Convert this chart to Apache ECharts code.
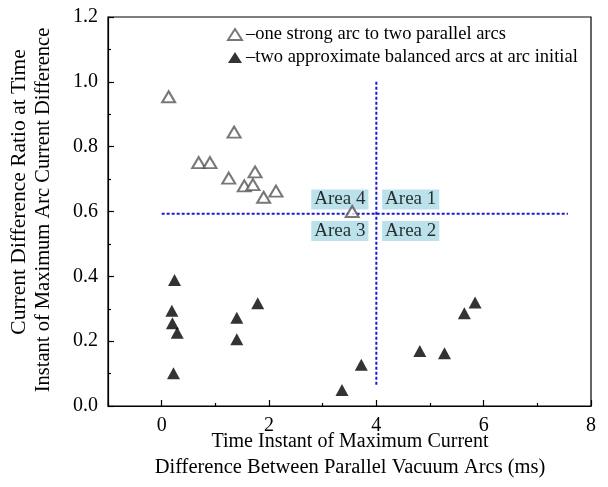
<!DOCTYPE html>
<html><head><meta charset="utf-8">
<script src="https://cdn.jsdelivr.net/npm/echarts@6/dist/echarts.min.js"></script>
<style>html,body{margin:0;padding:0;background:#fff}#c{width:608px;height:487px}</style>
</head><body><div id="c"></div>
<script>
var seriesNames = ['–one strong arc to two parallel arcs', '–two approximate balanced arcs at arc initial'];
var strongX = [0.13, 1.35, 0.69, 0.90, 1.25, 1.74, 1.54, 1.70, 1.90, 2.13, 3.55];
var strongY = [0.954, 0.845, 0.751, 0.751, 0.703, 0.722, 0.679, 0.683, 0.644, 0.663, 0.600];
var balancedX = [0.24, 0.19, 0.20, 0.29, 0.22, 1.40, 1.40, 1.79, 3.36, 3.72, 4.81, 5.27, 5.64, 5.84];
var balancedY = [0.389, 0.294, 0.255, 0.226, 0.101, 0.272, 0.206, 0.317, 0.049, 0.127, 0.170, 0.163, 0.286, 0.319];
var hLineX = [0, 7.57], hLineY = [0.593, 0.593];
var vLineX = [4, 4], vLineY = [1.0, 0.06];
var areaNames = ['Area 4', 'Area 1', 'Area 3', 'Area 2'];
var areaX = [3.32, 4.64, 3.32, 4.64];
var areaY = [0.637, 0.637, 0.540, 0.540];
var xMajor = [0, 2, 4, 6, 8], xMinor = [-1, 1, 3, 5, 7];
var xTitle = ['Time Instant of Maximum Current', 'Difference Between Parallel Vacuum Arcs (ms)'];
var yTitle = ['Current Difference Ratio at Time', 'Instant of Maximum Arc Current Difference'];

function zip(a, b) { return a.map(function (v, i) { return [v, b[i]]; }); }
var F = 'Liberation Serif';
var chart = echarts.init(document.getElementById('c'));
chart.setOption({
  animation: false,
  grid: { left: 108, right: 17, top: 17, bottom: 81, show: true, borderColor: '#000', borderWidth: 1.2, backgroundColor: 'transparent' },
  xAxis: [{
    type: 'value', min: -1, max: 8,
    axisLine: { onZero: false, lineStyle: { color: '#000', width: 1.2 } },
    axisTick: { inside: true, length: 6, customValues: xMajor, lineStyle: { color: '#000', width: 1.2 } },
    axisLabel: { customValues: xMajor, margin: 10, fontFamily: F, fontSize: 20, color: '#000' },
    splitLine: { show: false }
  }, {
    type: 'value', min: -1, max: 8, position: 'bottom', gridIndex: 0,
    axisLine: { show: false, onZero: false },
    axisTick: { inside: true, length: 3, customValues: xMinor, lineStyle: { color: '#000', width: 1.2 } },
    axisLabel: { show: false }, splitLine: { show: false }
  }],
  yAxis: {
    type: 'value', min: 0, max: 1.2, interval: 0.2,
    axisLine: { show: true, onZero: false, lineStyle: { color: '#000', width: 1.2 } },
    axisTick: { show: true, inside: true, length: 6, lineStyle: { color: '#000', width: 1.2 } },
    minorTick: { show: true, splitNumber: 2, length: 3, lineStyle: { color: '#000', width: 1.2 } },
    axisLabel: { margin: 10, fontFamily: F, fontSize: 20, color: '#000', formatter: function (v) { return v.toFixed(1); } },
    splitLine: { show: false }
  },
  legend: {
    orient: 'vertical', left: 222, top: 20, itemGap: 4, itemWidth: 14, itemHeight: 11,
    textStyle: { fontFamily: F, fontSize: 18.5, color: '#000', padding: [0, 0, 0, -1] },
    data: [{ name: seriesNames[0], icon: 'emptyTriangle' }, { name: seriesNames[1], icon: 'triangle' }]
  },
  graphic: [
    { type: 'text', x: 350, y: 442, style: { text: xTitle[0], font: '20px "Liberation Serif"', fill: '#000', align: 'center', verticalAlign: 'middle' } },
    { type: 'text', x: 350, y: 468, style: { text: xTitle[1], font: '20.5px "Liberation Serif"', fill: '#000', align: 'center', verticalAlign: 'middle' } },
    { type: 'text', x: 19, y: 192, rotation: Math.PI / 2, style: { text: yTitle[0], font: '21.5px "Liberation Serif"', fill: '#000', align: 'center', verticalAlign: 'middle' } },
    { type: 'text', x: 44, y: 210, rotation: Math.PI / 2, style: { text: yTitle[1], font: '20.5px "Liberation Serif"', fill: '#000', align: 'center', verticalAlign: 'middle' } }
  ],
  series: [
    { name: seriesNames[0], type: 'scatter', symbol: 'emptyTriangle', symbolSize: [13, 11], data: zip(strongX, strongY),
      itemStyle: { color: '#555', borderWidth: 1 }, z: 5 },
    { name: seriesNames[1], type: 'scatter', symbol: 'triangle', symbolSize: [13, 12], data: zip(balancedX, balancedY),
      itemStyle: { color: '#000' }, z: 5 },
    { type: 'line', data: zip(hLineX, hLineY), symbol: 'none', silent: true, z: 3,
      lineStyle: { color: '#1a1acc', width: 2, type: [3, 2] } },
    { type: 'line', data: zip(vLineX, vLineY), symbol: 'none', silent: true, z: 3,
      lineStyle: { color: '#1a1acc', width: 2, type: [3, 2] } },
    { type: 'scatter', data: areaNames.map(function (n, i) { return { value: [areaX[i], areaY[i]], name: n }; }),
      symbolSize: 0, silent: true, z: 4,
      label: { show: true, position: 'inside', formatter: '{b}', fontFamily: F, fontSize: 19, color: '#000',
        backgroundColor: '#aad9e6', padding: [1, 3, 0, 3] } }
  ]
});
</script></body></html>
